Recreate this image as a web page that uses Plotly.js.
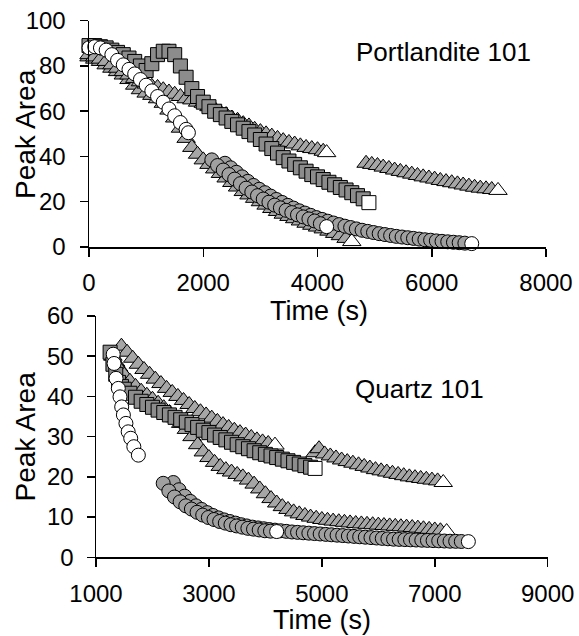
<!DOCTYPE html>
<html>
<head>
<meta charset="utf-8">
<script src="https://cdn.plot.ly/plotly-3.0.1.min.js"></script>
<style>html,body{margin:0;padding:0;background:#fff;}#chart{width:579px;height:636px;}</style>
</head>
<body>
<div id="chart"></div>
<script>
// ---------- Portlandite 101 (top panel) ----------
const pTriLowT = [0,100,200,300,400,500,600,700,800,900,1000,1100,1200,1300,1400,1500,1600,1700,1800,1900,2000,2100,2200,2300,2400,2500,2600,2700,2800,2900,3000,3100,3200,3300,3400,3500,3600,3700,3800,3900,4000,4100,4200,4300,4400,4500,4600];
const pTriLowY = [84,83,82,80.5,79,77.5,76,74,71.5,69.5,68,67,65.5,63.5,60.5,57,52.5,48,44,41,38.5,36.5,34.5,32.5,30.5,28.5,26.5,24.5,23,21.5,20,18.5,17,15.7,14.5,13.5,12.5,11.5,10.5,9.6,8.8,8,7,6,5,3.8,2.4];

const pTriUpT = [0,100,200,300,400,500,600,700,800,900,1000,1100,1200,1300,1400,1500,1600,1700,1800,1900,2000,2100,2200,2300,2400,2500,2600,2700,2800,2900,3000,3100,3200,3300,3400,3500,3600,3700,3800,3900,4000,4100,4160];
const pTriUpY = [85,84,83,82,80.5,79,77.5,76,74.5,73,72,71,70.5,69.5,68.5,67.5,66.5,65.5,65,64,63.5,62,61,59.5,58.5,57,56,54.5,53.5,52,51,50,49,48,47,46.2,45.5,44.7,44,43.5,43,42.3,41.7];

const pTriUp2T = [4850,4950,5050,5150,5250,5350,5450,5550,5650,5750,5850,5950,6050,6150,6250,6350,6450,6550,6650,6750,6850,6950,7050,7160];
const pTriUp2Y = [37,36.5,36,35.3,34.7,34,33.4,32.8,32.2,31.6,31,30.5,30,29.4,28.9,28.4,27.9,27.4,26.9,26.4,26,25.7,25.4,25];

const pSqT = [0,100,200,300,400,500,600,700,800,900,1000,1100,1200,1300,1400,1500,1600,1700,1800,1900,2000,2100,2200,2300,2400,2500,2600,2700,2800,2900,3000,3100,3200,3300,3400,3500,3600,3700,3800,3900,4000,4100,4200,4300,4400,4500,4600,4700,4800,4900];
const pSqY = [89,89,88.5,88,87,86,85,83.5,82,80,78,81,85,86.5,86.5,85,80,75,70,66.5,64,62,60,58.5,57,55.5,54,52.5,51,49.5,47.5,45.5,43.5,41.5,39.5,38,36.5,35,33.5,32,31,29.8,28.6,27.5,26.3,25.2,24,22.7,21.3,19.6];

const pCirc3T = [2380,2480,2580,2680,2780,2880,2980,3080,3180,3280,3380,3480,3580,3680,3780,3880,3980,4080,4180,4280,4380,4480,4580,4680,4780,4880,4980,5080,5180,5280,5380,5480,5580,5680,5780,5880,5980,6080,6180,6280,6380,6480,6580,6700];
const pCirc3Y = [37,35,33,31,29,27.2,25.5,24,22.5,21,19.7,18.4,17.2,16,15,14,13,12.2,11.4,10.6,9.9,9.2,8.6,8,7.4,6.9,6.4,5.9,5.5,5.1,4.7,4.4,4.1,3.8,3.5,3.2,3,2.7,2.5,2.3,2.1,1.9,1.7,1.5];

const pCirc2T = [2150,2250,2350,2450,2550,2650,2750,2850,2950,3050,3150,3250,3350,3450,3550,3650,3750,3850,3950,4050,4160];
const pCirc2Y = [38.5,36,34,32,30,28,26,24.3,22.7,21.2,19.8,18.5,17.3,16.2,15.2,14.2,13.3,12.4,11.5,10.3,9];

const pCirc1T = [0,100,200,300,400,500,600,700,800,900,1000,1100,1200,1300,1400,1500,1600,1700,1740];
const pCirc1Y = [88,88.5,88,87,85,82.5,80.5,78.5,76.5,74,71.5,69,66.5,64,61,58,55,52,50.5];

// ---------- Quartz 101 (bottom panel) ----------
const qTriLowT = [1300,1350,1400,1450,1500,1600,1700,1800,1900,2000,2100,2200,2300,2400,2500,2600,2700,2800,2900,3000,3100,3200,3300,3400,3500,3600,3700,3800,3900,4000,4100,4200,4300,4400,4500,4600,4700,4800,4900,5000,5100,5200,5300,5400,5500,5600,5700,5800,5900,6000,6100,6200,6300,6400,6500,6600,6700,6800,6900,7000,7100,7210];
const qTriLowY = [50,48.5,47.3,46.2,45.3,43.8,42.5,41.3,40.3,39.3,38.3,37.2,36,34.7,33.3,31.8,30,28,26.2,24.8,23.6,22.6,21.8,21.2,20.6,20,19.2,18.2,17,15.8,14.6,13.5,12.6,11.9,11.3,10.8,10.4,10,9.7,9.4,9.2,9,8.85,8.7,8.55,8.4,8.3,8.2,8.1,8,7.9,7.8,7.7,7.6,7.5,7.4,7.25,7.1,6.95,6.8,6.6,6.4];

const qTriUpT = [1450,1550,1650,1750,1850,1950,2050,2150,2250,2350,2450,2550,2650,2750,2850,2950,3050,3150,3250,3350,3450,3550,3650,3750,3850,3950,4050,4170];
const qTriUpY = [52.5,51,49.5,48,46.7,45.5,44.3,43.2,42,41,40,39,38,37,36.2,35.4,34.6,33.8,33,32.3,31.6,31,30.4,29.8,29.2,28.7,28.3,27.9];

const qTriUp2T = [4880,4950,5050,5150,5250,5350,5450,5550,5650,5750,5850,5950,6050,6150,6250,6350,6450,6550,6650,6750,6850,6950,7050,7150];
const qTriUp2Y = [26,27,25.7,25.2,24.7,24.2,23.8,23.4,23,22.6,22.2,21.8,21.5,21.2,20.9,20.6,20.3,20,19.8,19.6,19.4,19.2,19,18.6];

const qSqT = [1250,1300,1350,1400,1450,1500,1600,1700,1800,1900,2000,2100,2200,2300,2400,2500,2600,2700,2800,2900,3000,3100,3200,3300,3400,3500,3600,3700,3800,3900,4000,4100,4200,4300,4400,4500,4600,4700,4800,4880];
const qSqY = [51,48,45.5,43.5,42.5,41.8,40.8,39.8,38.8,38,37.3,36.6,36,35.4,34.8,34.2,33.6,33,32.3,31.6,31,30.4,29.8,29.2,28.6,28,27.5,27,26.5,26,25.6,25.2,24.8,24.4,24,23.6,23.2,22.8,22.4,22.1];

const qCirc2bT = [2370,2470,2570,2670,2770,2870,2970,3070,3170,3270,3370,3470,3570,3670,3770,3870,3970,4070,4170,4270,4370,4470,4570,4670,4770,4870,4970,5070,5170,5270,5370,5470,5570,5670,5770,5870,5970,6070,6170,6270,6370,6470,6570,6670,6770,6870,6970,7070,7170,7270,7370,7470,7595];
const qCirc2bY = [18.6,16.8,15.2,13.9,12.8,11.9,11.1,10.4,9.8,9.3,8.9,8.5,8.1,7.8,7.5,7.3,7.1,6.9,6.75,6.6,6.45,6.3,6.2,6.1,6,5.9,5.8,5.7,5.6,5.5,5.4,5.3,5.2,5.1,5,4.9,4.8,4.7,4.6,4.5,4.45,4.4,4.35,4.3,4.25,4.2,4.15,4.1,4.05,4,3.97,3.93,3.9];

const qCirc2aT = [2190,2290,2390,2490,2590,2690,2790,2890,2990,3090,3190,3290,3390,3490,3590,3690,3790,3890,3990,4090,4200];
const qCirc2aY = [18.4,16.5,15,13.8,12.8,12,11.2,10.5,9.9,9.4,8.9,8.5,8.1,7.8,7.5,7.2,7,6.8,6.6,6.5,6.4];

const qCirc1T = [1305,1320,1355,1395,1425,1455,1485,1530,1570,1615,1670,1750];
const qCirc1Y = [50.5,48.2,44.5,42,39.9,37.4,35.4,33.3,31.2,29.6,27.5,25.4];

// ---------- tick labels ----------
const pXTicks = [0,2000,4000,6000,8000];
const pYTicks = [0,20,40,60,80,100];
const qXTicks = [1000,3000,5000,7000,9000];
const qYTicks = [0,10,20,30,40,50,60];

const FONT = 'Liberation Sans, Arial, sans-serif';

// body markers get a grey fill (dense overlap in the original), final marker stays white
function tr(x, y, symbol, size, xa, ya, body) {
  const fills = x.map((_, i) => (i === x.length - 1 ? '#ffffff' : body));
  return {
    type: 'scatter', mode: 'markers', x: x, y: y, xaxis: xa, yaxis: ya,
    cliponaxis: false, hoverinfo: 'skip',
    marker: {symbol: symbol, size: size, color: fills, line: {color: '#000000', width: 1}}
  };
}

const TRI = '#a6a6a6', SQ = '#8c8c8c', CIR = '#a0a0a0', WHITE = '#ffffff';
const traces = [
  tr(pTriLowT, pTriLowY, 'triangle-up', 16, 'x', 'y', TRI),
  tr(pTriUpT, pTriUpY, 'triangle-up', 16, 'x', 'y', TRI),
  tr(pTriUp2T, pTriUp2Y, 'triangle-up', 16, 'x', 'y', TRI),
  tr(pSqT, pSqY, 'square', 14, 'x', 'y', SQ),
  tr(pCirc3T, pCirc3Y, 'circle', 14, 'x', 'y', CIR),
  tr(pCirc2T, pCirc2Y, 'circle', 14, 'x', 'y', CIR),
  tr(pCirc1T, pCirc1Y, 'circle', 14, 'x', 'y', WHITE),
  tr(qTriLowT, qTriLowY, 'triangle-up', 16, 'x2', 'y2', TRI),
  tr(qTriUpT, qTriUpY, 'triangle-up', 16, 'x2', 'y2', TRI),
  tr(qTriUp2T, qTriUp2Y, 'triangle-up', 16, 'x2', 'y2', TRI),
  tr(qSqT, qSqY, 'square', 14, 'x2', 'y2', SQ),
  tr(qCirc2bT, qCirc2bY, 'circle', 14, 'x2', 'y2', CIR),
  tr(qCirc2aT, qCirc2aY, 'circle', 14, 'x2', 'y2', CIR),
  tr(qCirc1T, qCirc1Y, 'circle', 14, 'x2', 'y2', WHITE)
];

const W = 579, H = 636;
function ax(extra) {
  return Object.assign({
    showline: true, linecolor: '#000', linewidth: 1.5, showgrid: false, zeroline: false,
    ticks: 'outside', ticklen: 8, tickwidth: 1.5, tickcolor: '#000',
    tickfont: {family: FONT, size: 24, color: '#000'}, fixedrange: true
  }, extra);
}

const layout = {
  width: W, height: H, margin: {l: 0, r: 0, t: 0, b: 0},
  paper_bgcolor: '#fff', plot_bgcolor: 'rgba(0,0,0,0)', showlegend: false,
  xaxis: ax({domain: [89/W, 546/W], range: [0, 8000], tickvals: pXTicks, ticktext: pXTicks.map(String), anchor: 'y', ticklabelstandoff: 6}),
  yaxis: ax({domain: [1 - 247/H, 1 - 20.7/H], range: [0, 100], tickvals: pYTicks, ticktext: pYTicks.map(String), anchor: 'x', ticklabelstandoff: 9}),
  xaxis2: ax({domain: [96/W, 547.7/W], range: [1000, 9000], tickvals: qXTicks, ticktext: qXTicks.map(String), anchor: 'y2', ticklabelstandoff: 6}),
  yaxis2: ax({domain: [1 - 557.3/H, 1 - 316/H], range: [0, 60], tickvals: qYTicks, ticktext: qYTicks.map(String), anchor: 'x2', ticklabelstandoff: 8}),
  annotations: [
    {text: 'Portlandite 101', x: 443.5/W, y: 1 - 52/H, xref: 'paper', yref: 'paper', xanchor: 'center', yanchor: 'middle', showarrow: false, font: {family: FONT, size: 26, color: '#000'}},
    {text: 'Quartz 101', x: 419/W, y: 1 - 389/H, xref: 'paper', yref: 'paper', xanchor: 'center', yanchor: 'middle', showarrow: false, font: {family: FONT, size: 26, color: '#000'}},
    {text: 'Peak Area', x: 25/W, y: 1 - 134/H, xref: 'paper', yref: 'paper', xanchor: 'center', yanchor: 'middle', textangle: -90, showarrow: false, font: {family: FONT, size: 28, color: '#000'}},
    {text: 'Peak Area', x: 24.5/W, y: 1 - 437/H, xref: 'paper', yref: 'paper', xanchor: 'center', yanchor: 'middle', textangle: -90, showarrow: false, font: {family: FONT, size: 28, color: '#000'}},
    {text: 'Time (s)', x: 319/W, y: 1 - 311/H, xref: 'paper', yref: 'paper', xanchor: 'center', yanchor: 'middle', showarrow: false, font: {family: FONT, size: 27, color: '#000'}},
    {text: 'Time (s)', x: 322/W, y: 1 - 620/H, xref: 'paper', yref: 'paper', xanchor: 'center', yanchor: 'middle', showarrow: false, font: {family: FONT, size: 27, color: '#000'}}
  ]
};

Plotly.newPlot('chart', traces, layout, {displayModeBar: false, staticPlot: true});
</script>
</body>
</html>
